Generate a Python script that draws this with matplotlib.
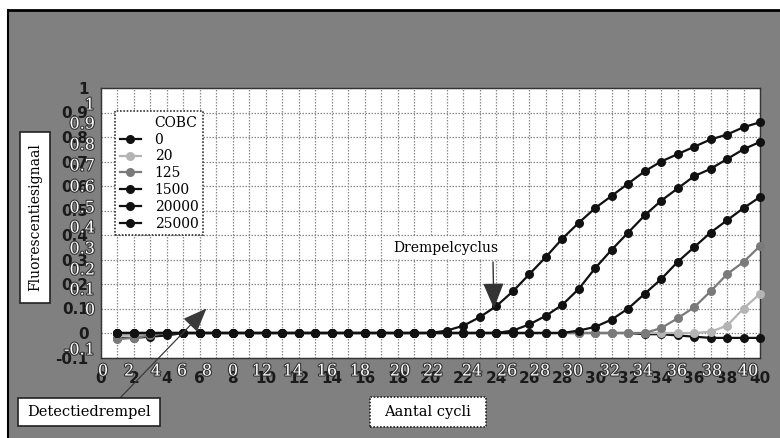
import matplotlib
matplotlib.use("Agg")
import matplotlib.pyplot as plt
import matplotlib.patheffects as pe
from matplotlib.patches import Rectangle
from matplotlib.lines import Line2D
from matplotlib.ticker import MultipleLocator

W, H = 780, 438

# data (cycle 1..40)
cycles = [1, 2, 3, 4, 5, 6, 7, 8, 9, 10,
          11, 12, 13, 14, 15, 16, 17, 18, 19, 20,
          21, 22, 23, 24, 25, 26, 27, 28, 29, 30,
          31, 32, 33, 34, 35, 36, 37, 38, 39, 40]

sig_0 = [-0.02, -0.02, -0.015, -0.01, 0.0, 0.0, 0.0, 0.0, 0.0, 0.0,
         0.0, 0.0, 0.0, 0.0, 0.0, 0.0, 0.0, 0.0, 0.0, 0.0,
         0.0, 0.0, 0.0, 0.0, 0.0, 0.0, 0.0, 0.0, 0.0, 0.0,
         0.0, 0.0, -0.005, -0.005, -0.01, -0.015, -0.02, -0.02, -0.02, -0.02]
sig_20 = [-0.01, -0.01, -0.005, 0.0, 0.0, 0.0, 0.0, 0.0, 0.0, 0.0,
          0.0, 0.0, 0.0, 0.0, 0.0, 0.0, 0.0, 0.0, 0.0, 0.0,
          0.0, 0.0, 0.0, 0.0, 0.0, 0.0, 0.0, 0.0, 0.0, 0.0,
          0.0, 0.0, 0.0, 0.0, 0.0, 0.0, 0.005, 0.03, 0.10, 0.16]
sig_125 = [-0.025, -0.02, -0.01, 0.0, 0.0, 0.0, 0.0, 0.0, 0.0, 0.0,
           0.0, 0.0, 0.0, 0.0, 0.0, 0.0, 0.0, 0.0, 0.0, 0.0,
           0.0, 0.0, 0.0, 0.0, 0.0, 0.0, 0.0, 0.0, 0.0, 0.0,
           0.0, 0.0, 0.0, 0.02, 0.06, 0.105, 0.17, 0.24, 0.29, 0.355]
sig_1500 = [0.0, 0.0, 0.0, 0.0, 0.0, 0.0, 0.0, 0.0, 0.0, 0.0,
            0.0, 0.0, 0.0, 0.0, 0.0, 0.0, 0.0, 0.0, 0.0, 0.0,
            0.0, 0.0, 0.0, 0.0, 0.0, 0.0, 0.0, 0.0, 0.01, 0.025,
            0.055, 0.10, 0.16, 0.22, 0.29, 0.35, 0.41, 0.46, 0.51, 0.555]
sig_20000 = [0.0, 0.0, 0.0, 0.0, 0.0, 0.0, 0.0, 0.0, 0.0, 0.0,
             0.0, 0.0, 0.0, 0.0, 0.0, 0.0, 0.0, 0.0, 0.0, 0.0,
             0.0, 0.0, 0.0, 0.0, 0.01, 0.035, 0.07, 0.115, 0.18, 0.265,
             0.34, 0.41, 0.48, 0.54, 0.59, 0.64, 0.67, 0.71, 0.75, 0.78]
sig_25000 = [0.0, 0.0, 0.0, 0.0, 0.0, 0.0, 0.0, 0.0, 0.0, 0.0,
             0.0, 0.0, 0.0, 0.0, 0.0, 0.0, 0.0, 0.0, 0.0, 0.0,
             0.01, 0.03, 0.065, 0.11, 0.17, 0.24, 0.31, 0.385, 0.45, 0.51,
             0.56, 0.61, 0.66, 0.70, 0.73, 0.76, 0.79, 0.81, 0.84, 0.86]

cobc_labels = ["0", "20", "125", "1500", "20000", "25000"]
threshold = 0.1

x_ticks = [0, 2, 4, 6, 8, 10, 12, 14, 16, 18, 20, 22, 24, 26, 28, 30, 32, 34, 36, 38, 40]
y_ticks = [-0.1, 0.0, 0.1, 0.2, 0.3, 0.4, 0.5, 0.6, 0.7, 0.8, 0.9, 1.0]
y_tick_labels = ["-0.1", "0", "0.1", "0.2", "0.3", "0.4", "0.5", "0.6", "0.7", "0.8", "0.9", "1"]

# ghost (light, shifted) tick labels visible in the scan
ghost_x_labels = ["0", "2", "4", "6", "8", "0", "12", "14", "16", "18", "20",
                  "22", "24", "26", "28", "30", "32", "34", "36", "38", "40"]
ghost_x_pos = [103, 129, 156, 182, 207, 233, 262, 293, 327, 360, 400,
               433, 472, 507, 540, 573, 610, 643, 677, 712, 748]
ghost_y_labels = ["1", "0.9", "0.8", "0.7", "0.6", "0.5", "0.4", "0.3", "0.2", "0.1", "0", "-0.1"]
ghost_y_pos = [105, 124, 145, 166, 187, 208, 228, 249, 270, 290, 310, 350]

SERIF = "DejaVu Serif"


def fx(px):
    return px / W


def fy(py):
    return 1 - py / H


def box(fig, x0, y0, x1, y1, dotted=False):
    r = Rectangle((fx(x0), fy(y1)), fx(x1) - fx(x0), fy(y0) - fy(y1),
                  transform=fig.transFigure, facecolor="white",
                  edgecolor="#222222", lw=1.2,
                  linestyle=(0, (1, 1)) if dotted else "-", zorder=4)
    fig.add_artist(r)


fig = plt.figure(figsize=(W / 100, H / 100), dpi=100, facecolor="white")

# scanned grey background with black frame on top and left
fig.add_artist(Rectangle((fx(8), 0), 1 - fx(8), fy(10), transform=fig.transFigure,
                         facecolor="#808080", edgecolor="none", zorder=-2))
fig.add_artist(Line2D([fx(8), 1], [fy(10), fy(10)], transform=fig.transFigure,
                      color="black", lw=2, zorder=-1))
fig.add_artist(Line2D([fx(8), fx(8)], [0, fy(10)], transform=fig.transFigure,
                      color="black", lw=1.5, zorder=-1))

ax = fig.add_axes([fx(101), fy(357.5), fx(760) - fx(101), fy(88) - fy(357.5)])
ax.set_facecolor("white")

series = [sig_0, sig_20, sig_125, sig_1500, sig_20000, sig_25000]
colors = ["#111111", "#b4b4b4", "#7a7a7a", "#111111", "#111111", "#111111"]
order = [1, 2, 3, 4, 5, 0]
handles = {}
for i in order:
    ln, = ax.plot(cycles, series[i], color=colors[i], lw=1.6, marker="o",
                  markersize=6.5, markeredgewidth=0, zorder=3 + i * 0.1,
                  label=cobc_labels[i], clip_on=False)
    handles[i] = ln

ax.set_xlim(0, 40)
ax.set_ylim(-0.1, 1.0)
ax.set_xticks(x_ticks)
ax.xaxis.set_minor_locator(MultipleLocator(1))
ax.set_yticks(y_ticks)
ax.grid(which="both", color="#8a8a8a", lw=0.9, linestyle=(0, (1.2, 1.2)))
ax.set_axisbelow(True)
ax.tick_params(which="both", length=0, labelsize=11, labelcolor="#1a1a1a")
ax.tick_params(axis="x", pad=10)
ax.tick_params(axis="y", pad=9)
tick_font = {"family": "DejaVu Sans", "weight": "bold", "size": 11}
ax.set_xticklabels([str(t) for t in x_ticks], fontdict=tick_font)
ax.set_yticklabels(y_tick_labels, fontdict=tick_font)
for sp in ax.spines.values():
    sp.set_color("#333333")
    sp.set_linewidth(1)

# light ghost labels
stroke = [pe.withStroke(linewidth=1.6, foreground="#333333")]
for s, px in zip(ghost_x_labels, ghost_x_pos):
    fig.text(fx(px), fy(371), s, ha="center", va="center", color="white",
             fontsize=11.5, family=SERIF, path_effects=stroke, zorder=5)
for s, py in zip(ghost_y_labels, ghost_y_pos):
    fig.text(fx(95), fy(py), s, ha="right", va="center", color="white",
             fontsize=11.5, family=SERIF, path_effects=stroke, zorder=5)

# legend with "COBC" as a header row
head = Line2D([], [], linestyle="none", label="COBC")
leg_handles = [head] + [handles[i] for i in range(6)]
leg = ax.legend(handles=leg_handles, loc="upper left",
                bbox_to_anchor=(fx(115), fy(111)), bbox_transform=fig.transFigure,
                borderaxespad=0, frameon=True, fancybox=False, framealpha=1,
                edgecolor="#333333", borderpad=0.35, labelspacing=0.2,
                handlelength=1.5, handletextpad=1.0,
                prop={"family": SERIF, "size": 10})
leg.get_frame().set_linestyle((0, (1, 1)))
leg.get_frame().set_linewidth(1.2)
leg.set_zorder(10)

# axis title boxes
box(fig, 20, 132, 50, 303)
fig.text(fx(35.5), fy(217), "Fluorescentiesignaal", rotation=90, ha="center",
         va="center", family=SERIF, fontsize=10, zorder=6)
box(fig, 370, 397, 486, 427, dotted=True)
fig.text(fx(428), fy(412), "Aantal cycli", ha="center", va="center",
         family=SERIF, fontsize=10.5, zorder=6)
box(fig, 18, 398, 160, 426)
fig.text(fx(89), fy(412), "Detectiedrempel", ha="center", va="center",
         family=SERIF, fontsize=10.5, zorder=6)

# threshold arrows
ax.annotate("", xy=(6.4, threshold), xycoords="data",
            xytext=(120, H - 398), textcoords="figure pixels",
            arrowprops=dict(arrowstyle="-|>,head_length=1.5,head_width=0.6",
                            mutation_scale=10, color="#3a3a3a", lw=0.9,
                            shrinkA=0, shrinkB=0),
            annotation_clip=False, zorder=6)
ax.annotate("", xy=(23.85, threshold), xycoords="data",
            xytext=(493, H - 262), textcoords="figure pixels",
            arrowprops=dict(arrowstyle="-|>,head_length=1.6,head_width=0.65",
                            mutation_scale=10, color="#333333", lw=1.0,
                            shrinkA=0, shrinkB=0),
            annotation_clip=False, zorder=6)
fig.text(fx(446), fy(248), "Drempelcyclus", ha="center", va="center",
         family=SERIF, fontsize=10, zorder=6,
         bbox=dict(boxstyle="square,pad=0.3", fc="white", ec="none"))

fig.savefig("out.png", dpi=100, facecolor=fig.get_facecolor())
